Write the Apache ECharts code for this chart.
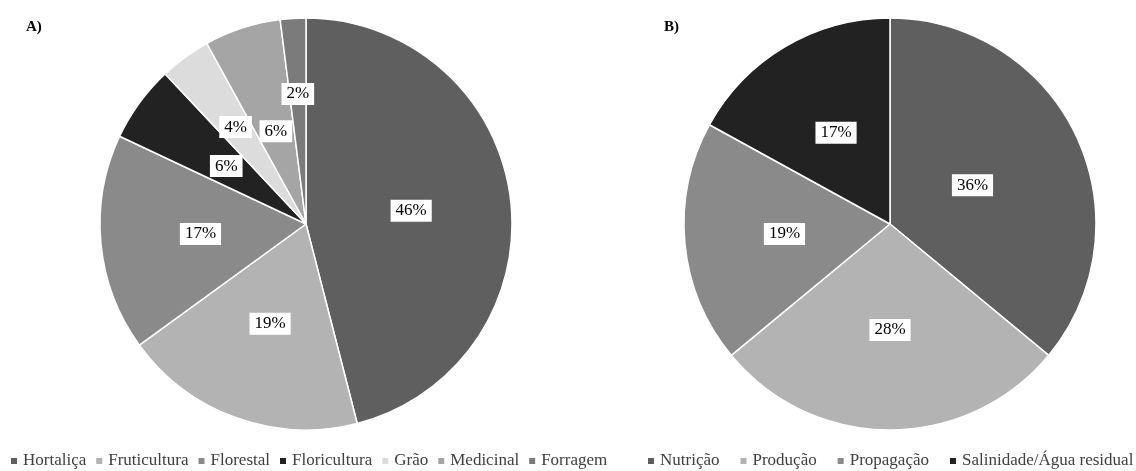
<!DOCTYPE html>
<html>
<head>
<meta charset="utf-8">
<script src="https://cdn.jsdelivr.net/npm/echarts@6/dist/echarts.min.js"></script>
<style>
html,body{margin:0;padding:0;background:#fff;}
#chart{width:1136px;height:471px;}
</style>
</head>
<body>
<div id="chart"></div>
<script>
const categoriesA = ['Hortaliça', 'Fruticultura', 'Florestal', 'Floricultura', 'Grão', 'Medicinal', 'Forragem'];
const valuesA = [46, 19, 17, 6, 4, 6, 2];
const colorsA = ['#5f5f5f', '#b3b3b3', '#8a8a8a', '#222222', '#dcdcdc', '#a5a5a5', '#7b7b7b'];

const categoriesB = ['Nutrição', 'Produção', 'Propagação', 'Salinidade/Água residual'];
const valuesB = [36, 28, 19, 17];
const colorsB = ['#5f5f5f', '#b3b3b3', '#8a8a8a', '#222222'];

// label distance from the centre, relative to the default (half radius) — style only
const labelRadialA = [1.0, 1.0, 1.0, 0.93, 1.13, 0.92, 1.23];
const labelRadialB = [0.86, 1.0, 1.0, 1.0];

const FONT = '"Liberation Serif", "Times New Roman", serif';
const CENTER_A = [306, 224];
const CENTER_B = [890, 224];
const RADIUS = 206;

function makeData(cats, vals, cols) {
  return cats.map((c, i) => ({ name: c, value: vals[i], itemStyle: { color: cols[i] } }));
}

function radialLayout(center, factors) {
  return function (params) {
    const r = params.labelRect;
    const cx = r.x + r.width / 2, cy = r.y + r.height / 2;
    const f = factors[params.dataIndex] - 1;
    return { dx: (cx - center[0]) * f, dy: (cy - center[1]) * f, hideOverlap: false };
  };
}

const labelStyle = {
  show: true,
  position: 'inside',
  formatter: '{c}%',
  fontFamily: FONT,
  fontSize: 17,
  color: '#000',
  backgroundColor: '#fff',
  padding: [3, 5, 2, 5]
};

const legendText = { fontFamily: FONT, fontSize: 17, color: '#404040', lineHeight: 20 };

const chart = echarts.init(document.getElementById('chart'), null, { renderer: 'canvas' });
chart.setOption({
  animation: false,
  backgroundColor: '#fff',
  title: [
    { text: 'A)', left: 21, top: 15, textStyle: { fontFamily: FONT, fontSize: 15, fontWeight: 'bold', color: '#000' } },
    { text: 'B)', left: 659, top: 15, textStyle: { fontFamily: FONT, fontSize: 15, fontWeight: 'bold', color: '#000' } }
  ],
  legend: [
    {
      data: categoriesA, left: 9, top: 451, width: 620, padding: 0, icon: 'rect', itemWidth: 8, itemHeight: 8,
      itemGap: 8, textStyle: legendText, selectedMode: false
    },
    {
      data: categoriesB, left: 646, top: 451, width: 490, padding: 0, icon: 'rect', itemWidth: 8, itemHeight: 8,
      itemGap: 19, textStyle: legendText, selectedMode: false
    }
  ],
  series: [
    {
      type: 'pie', center: CENTER_A, radius: RADIUS, startAngle: 90, clockwise: true,
      avoidLabelOverlap: false,
      data: makeData(categoriesA, valuesA, colorsA),
      itemStyle: { borderColor: '#fff', borderWidth: 1.5 },
      label: labelStyle, labelLine: { show: false },
      labelLayout: radialLayout(CENTER_A, labelRadialA),
      emphasis: { disabled: true }, silent: true
    },
    {
      type: 'pie', center: CENTER_B, radius: RADIUS, startAngle: 90, clockwise: true,
      avoidLabelOverlap: false,
      data: makeData(categoriesB, valuesB, colorsB),
      itemStyle: { borderColor: '#fff', borderWidth: 1.5 },
      label: labelStyle, labelLine: { show: false },
      labelLayout: radialLayout(CENTER_B, labelRadialB),
      emphasis: { disabled: true }, silent: true
    }
  ]
});
</script>
</body>
</html>
